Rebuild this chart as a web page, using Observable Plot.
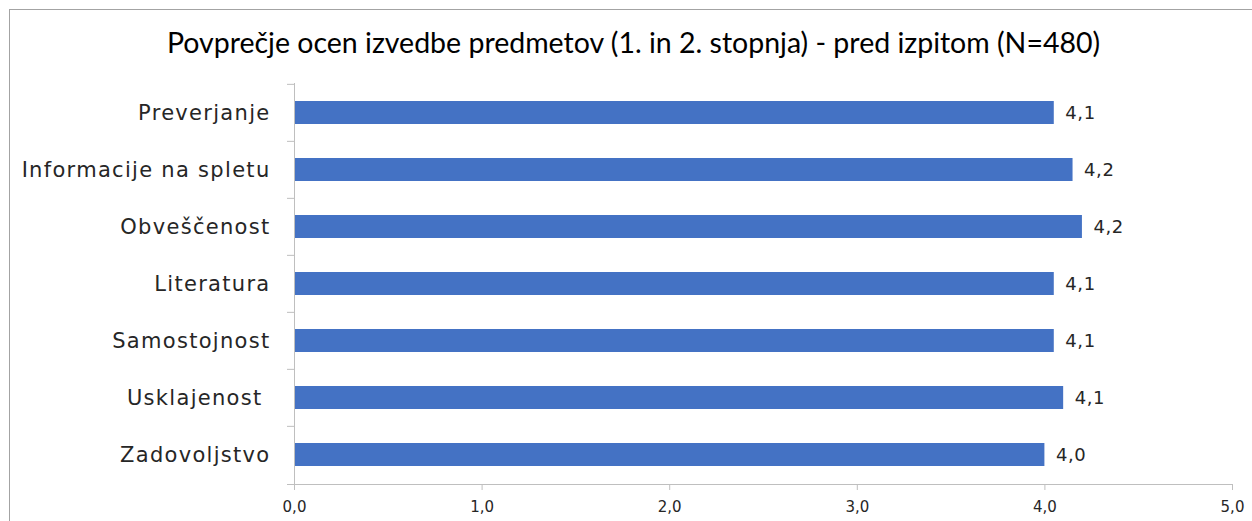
<!DOCTYPE html>
<html>
<head>
<meta charset="utf-8">
<script src="https://cdn.jsdelivr.net/npm/d3@7"></script>
<script src="https://cdn.jsdelivr.net/npm/@observablehq/plot@0.6"></script>
<style>
  body { margin: 0; background: #fff; }
  #wrap { position: relative; width: 1252px; height: 521px; overflow: hidden; background: #fff; }
  #frame { position: absolute; left: 9px; top: 9px; width: 1400px; height: 700px;
           border-left: 1.5px solid #a3a3a3; border-top: 1.5px solid #a3a3a3; }
  #title { position: absolute; left: 15px; right: 0; top: 28px; text-align: center;
           font-family: Lato, sans-serif; font-size: 28.5px; line-height: 28.5px; color: #000; white-space: nowrap; }
  #chart { position: absolute; left: 0; top: 0; }
  #chart text { white-space: pre; }
  .ylab text { letter-spacing: 1.3px; }
  .vlab text { letter-spacing: 0.6px; }
</style>
</head>
<body>
<div id="wrap">
  <div id="frame"></div>
  <div id="chart"></div>
  <div id="title"></div>
</div>
<script>
const titleText = "Povprečje ocen izvedbe predmetov (1. in 2. stopnja) - pred izpitom (N=480)";
const categories = ["Preverjanje", "Informacije na spletu", "Obveščenost", "Literatura", "Samostojnost", "Usklajenost ", "Zadovoljstvo"];
const values = [4.05, 4.15, 4.20, 4.05, 4.05, 4.10, 4.00];
const xTicks = [0, 1, 2, 3, 4, 5];

const fmt = v => (Math.round(v * 10) / 10).toFixed(1).replace(".", ",");
const data = categories.map((c, i) => ({cat: c, val: values[i]}));

document.getElementById("title").textContent = titleText;

const mTop = 83, mBottom = 37, H = 521;
const step = (H - mTop - mBottom) / categories.length;
const labelFont = "'DejaVu Sans', sans-serif";
const axisColor = "#bfbfbf";

const chart = Plot.plot({
  width: 1252,
  height: H,
  marginLeft: 294,
  marginRight: 20,
  marginTop: mTop,
  marginBottom: mBottom,
  style: { fontFamily: labelFont, color: "#262626", background: "transparent", overflow: "visible" },
  x: { domain: [0, 5], ticks: xTicks, tickFormat: fmt, label: null },
  y: { domain: categories, paddingInner: 0.6, paddingOuter: 0.3, label: null },
  marks: [
    Plot.barX(data, { x: "val", y: "cat", fill: "#4472C4" }),
    Plot.text(data, { x: "val", y: "cat", text: d => fmt(d.val), dx: 11, textAnchor: "start", fontSize: 18, fill: "#262626", className: "vlab" }),
    Plot.frame({ anchor: "left", stroke: axisColor }),
    Plot.frame({ anchor: "bottom", stroke: axisColor, insetLeft: -7 }),
    Plot.axisY({ tickSize: 0, tickPadding: 24, fontSize: 21, label: null, className: "ylab" }),
    Plot.axisY({ tickSize: 7, tickFormat: () => "", dy: -step / 2, stroke: axisColor, label: null }),
    Plot.axisX({ ticks: xTicks, tickFormat: fmt, tickSize: 6, tickPadding: 11, fontSize: 15, label: null, stroke: axisColor })
  ]
});
document.getElementById("chart").appendChild(chart);
</script>
</body>
</html>
